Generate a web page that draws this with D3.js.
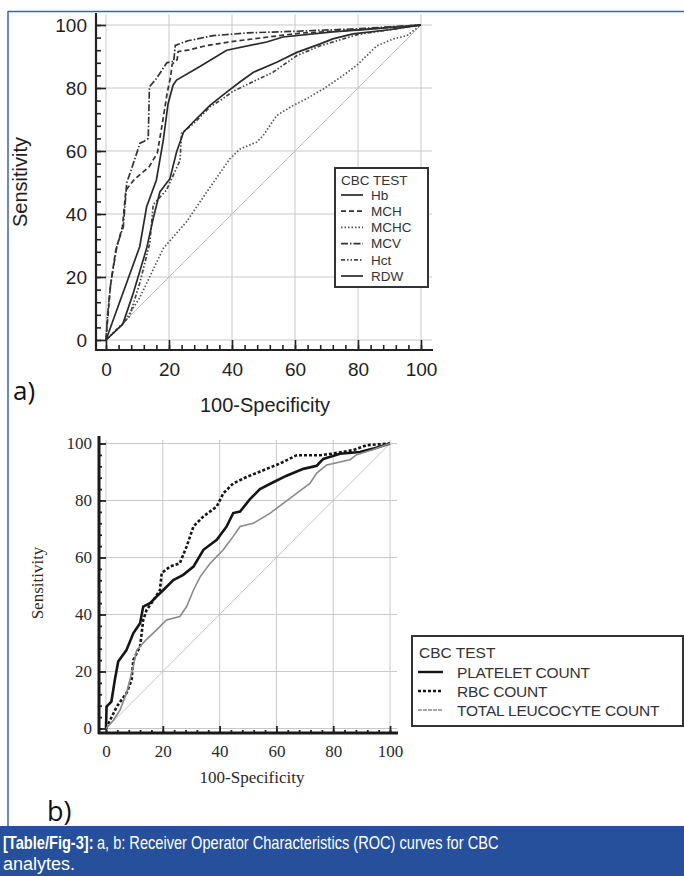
<!DOCTYPE html>
<html><head><meta charset="utf-8">
<script src="https://cdn.jsdelivr.net/npm/d3@7"></script>
<style>body{margin:0;background:#fff}svg{display:block}</style>
</head><body>
<svg id="c" width="684" height="876"></svg>
<script>
// ---------- DATA: chart a ----------
const ticksMajor = [0, 20, 40, 60, 80, 100];
const hbX   = [0, 4.4, 10.7, 12.9, 16, 18.2, 19.7, 21.3, 22.4, 29.8, 38.3, 51, 56.2, 72, 85, 100];
const hbY   = [0, 12.2, 29.6, 42.3, 50.8, 63.5, 75, 80.9, 82.5, 86.8, 92, 94.6, 96.2, 97.8, 98.8, 100];
const mchX  = [0, 1.4, 3, 5.2, 6.3, 9, 13.7, 16.3, 17.9, 19.4, 20.5, 21, 22.6, 22.9, 26, 32, 40.4, 50, 61.6, 80, 100];
const mchY  = [0, 17, 28, 35.9, 47.5, 51, 55, 59.4, 68.8, 78.3, 83.5, 87.5, 89, 91.6, 92, 93.5, 94.8, 96, 97.4, 98.5, 100];
const mchcX = [0, 5.3, 10.7, 18.2, 25.6, 32, 39.3, 42.5, 47.8, 49.9, 54.2, 59.5, 63.7, 69, 75.3, 79.6, 82.8, 86, 91.3, 95.5, 100];
const mchcY = [0, 5, 13.4, 29.1, 37.6, 47, 57.5, 60.6, 62.8, 64.9, 71.3, 74.5, 76.6, 79.7, 84, 87.2, 90.3, 93.4, 95.6, 96.6, 100];
const mcvX  = [0, 0.5, 1.5, 3.5, 5.5, 6.6, 8, 10.8, 12, 13.4, 13.8, 16, 19.3, 21.5, 22, 26, 34, 45, 60, 80, 100];
const mcvY  = [0, 8, 18, 30, 36, 50, 54, 62.5, 63, 64, 80.4, 83, 88, 88.5, 93.5, 95, 96.6, 97.5, 98, 98.8, 100];
const hctX  = [0, 7.4, 10.7, 13.9, 15, 19.2, 23.5, 24, 27.7, 33, 36.2, 40.4, 53, 60.6, 68, 80, 100];
const hctY  = [0, 7.4, 18, 30.7, 43, 47.6, 57, 65.6, 68.6, 74, 76, 79, 85, 90.3, 93.4, 97, 100];
const rdwX  = [0, 5.3, 8.5, 12.9, 15, 17.1, 20.3, 22.4, 24.6, 27.7, 33, 38.3, 42.5, 46.8, 54.2, 60.6, 68, 72, 78.4, 90, 100];
const rdwY  = [0, 5, 14.4, 29.1, 38.6, 47, 51.2, 59.7, 66, 69.2, 74.5, 78.7, 81.9, 85, 88.2, 91.3, 94, 95.6, 97.2, 98.5, 100];
const seriesNamesA = ["Hb", "MCH", "MCHC", "MCV", "Hct", "RDW"];

// ---------- DATA: chart b ----------
const pltX = [0, 0.2, 1.9, 3.1, 4.3, 7.2, 9.6, 12, 13.1, 15.5, 17.8, 20.2, 23.7, 27.2, 30.8, 34.3, 39, 42.5, 44.8, 47.2, 50.7, 54.2, 58.9, 63.6, 69.5, 74.2, 76.5, 82.4, 89.4, 94.1, 100];
const pltY = [0, 7.7, 9.4, 17, 23.5, 27.5, 33.4, 36.9, 42.8, 44, 46.3, 48.6, 52.1, 53.9, 56.8, 62.7, 66.2, 70.9, 75.6, 76.1, 80.5, 84, 86.4, 88.7, 91.1, 92.2, 94.6, 96.4, 97, 98.2, 100];
const rbcX = [0, 3.8, 7.2, 9, 9.6, 12, 13.1, 14.3, 16.7, 19, 19.6, 22.5, 26, 28.4, 30.8, 34.3, 39, 41.3, 44.8, 49.6, 55.4, 61.3, 67.2, 75.4, 80.1, 87.1, 91.8, 100];
const rbcY = [0, 7.7, 12.4, 17, 24, 28.8, 38, 41.6, 45, 48.6, 54.5, 56.8, 58, 63.9, 70.9, 74.4, 77.9, 82.5, 86, 88.3, 90.6, 93, 95.9, 95.9, 96.5, 97.7, 99.4, 100];
const tlcX = [0, 2.6, 4.9, 7.2, 8.4, 9.6, 10.8, 14.3, 17.8, 21.3, 26, 28.4, 30.8, 33.2, 36.7, 41.3, 44.8, 47.2, 51.9, 57.7, 62.4, 67.1, 71.8, 74.2, 77.7, 85.9, 88.3, 94.1, 100];
const tlcY = [0, 2.9, 6.4, 12.4, 17, 21.7, 27.5, 31.3, 34.6, 38.1, 39.3, 42.8, 48.6, 53.3, 58, 62.7, 67.4, 70.9, 72, 75.5, 79, 82.5, 86, 89.6, 92.5, 94.3, 96.1, 97.9, 100];
const seriesNamesB = ["PLATELET COUNT", "RBC COUNT", "TOTAL LEUCOCYTE COUNT"];

const svg = d3.select("#c");
const zip = (xs, ys) => xs.map((x, i) => [x, ys[i]]);
const SANS = "'Liberation Sans', Arial, sans-serif";
const SERIF = "'Liberation Serif', 'Times New Roman', serif";

// ---------- frame ----------
svg.append("line").attr("x1", 8).attr("x2", 684).attr("y1", 11.5).attr("y2", 11.5).attr("stroke", "#3b63ad").attr("stroke-width", 1.5);
svg.append("line").attr("x1", 8).attr("x2", 8).attr("y1", 11).attr("y2", 826).attr("stroke", "#3b63ad").attr("stroke-width", 1.5);

// ================= CHART A =================
const xA = d3.scaleLinear().domain([0, 100]).range([106, 421]);
const yA = d3.scaleLinear().domain([0, 100]).range([340, 25]);
const gA = svg.append("g");
const gridA = gA.append("g").attr("stroke", "#c9c9c9").attr("stroke-width", 1);
ticksMajor.forEach(t => {
  gridA.append("line").attr("x1", xA(t)).attr("x2", xA(t)).attr("y1", 14).attr("y2", 350);
  gridA.append("line").attr("y1", yA(t)).attr("y2", yA(t)).attr("x1", 97).attr("x2", 432);
});
gA.append("line").attr("x1", xA(0)).attr("y1", yA(0)).attr("x2", xA(100)).attr("y2", yA(100))
  .attr("stroke", "#bdbdbd").attr("stroke-width", 1);

const minorA = d3.range(0, 101, 4);
const axA_x = gA.append("g").attr("transform", "translate(0,350)")
  .call(d3.axisBottom(xA).tickValues(ticksMajor).tickSizeInner(-10).tickSizeOuter(0).tickPadding(13));
const axA_xm = gA.append("g").attr("transform", "translate(0,350)")
  .call(d3.axisBottom(xA).tickValues(minorA).tickSizeInner(-5).tickSizeOuter(0).tickFormat(""));
const axA_y = gA.append("g").attr("transform", "translate(96,0)")
  .call(d3.axisLeft(yA).tickValues(ticksMajor).tickSizeInner(-10).tickSizeOuter(0).tickPadding(9));
const axA_ym = gA.append("g").attr("transform", "translate(96,0)")
  .call(d3.axisLeft(yA).tickValues(minorA).tickSizeInner(-5).tickSizeOuter(0).tickFormat(""));
[axA_x, axA_xm, axA_y, axA_ym].forEach(a => {
  a.select(".domain").remove();
  a.selectAll("line").attr("stroke", "#222").attr("stroke-width", 1.6);
  a.selectAll("text").attr("font-family", SANS).attr("font-size", 19).attr("fill", "#1e1e1e");
});
gA.append("line").attr("x1", 96).attr("x2", 433).attr("y1", 350).attr("y2", 350).attr("stroke", "#222").attr("stroke-width", 2.2);
gA.append("line").attr("x1", 96).attr("x2", 96).attr("y1", 13).attr("y2", 351).attr("stroke", "#222").attr("stroke-width", 2.2);

gA.append("text").attr("x", 265).attr("y", 412).attr("text-anchor", "middle")
  .attr("font-family", SANS).attr("font-size", 20).attr("fill", "#1e1e1e").text("100-Specificity");
gA.append("text").attr("transform", "translate(27,182) rotate(-90)").attr("text-anchor", "middle")
  .attr("font-family", SANS).attr("font-size", 20).attr("fill", "#1e1e1e").text("Sensitivity");

const lineA = d3.line().x(d => xA(d[0])).y(d => yA(d[1]));
const dashesA = [null, "5,3", "1.5,2", "7,2,1.5,2", "4,2,1.5,2,1.5,2", null];
const dataA = [zip(hbX, hbY), zip(mchX, mchY), zip(mchcX, mchcY), zip(mcvX, mcvY), zip(hctX, hctY), zip(rdwX, rdwY)];
const colA = ["#2a2a2a", "#333", "#555", "#333", "#444", "#2a2a2a"];
dataA.forEach((d, i) => {
  gA.append("path").datum(d).attr("d", lineA).attr("fill", "none")
    .attr("stroke", colA[i]).attr("stroke-width", 1.7)
    .attr("stroke-dasharray", dashesA[i]);
});

const legA = gA.append("g");
legA.append("rect").attr("x", 335).attr("y", 168).attr("width", 93).attr("height", 119)
  .attr("fill", "#fff").attr("stroke", "#333").attr("stroke-width", 2);
legA.append("text").attr("x", 341).attr("y", 185).attr("font-family", SANS)
  .attr("font-size", 13.5).attr("fill", "#333").text("CBC TEST");
seriesNamesA.forEach((n, i) => {
  const cy = 195 + i * 16.2;
  legA.append("line").attr("x1", 341).attr("x2", 363).attr("y1", cy).attr("y2", cy)
    .attr("stroke", colA[i]).attr("stroke-width", 1.7).attr("stroke-dasharray", dashesA[i]);
  legA.append("text").attr("x", 371).attr("y", cy + 4.8).attr("font-family", SANS)
    .attr("font-size", 13.5).attr("fill", "#333").text(n);
});

svg.append("text").attr("x", 13).attr("y", 400).attr("font-family", "'Open Sans', sans-serif")
  .attr("font-size", 26).attr("fill", "#111").text("a)");

// ================= CHART B =================
const xB = d3.scaleLinear().domain([0, 100]).range([106, 390]);
const yB = d3.scaleLinear().domain([0, 100]).range([728.5, 443.5]);
const gB = svg.append("g");
const gridB = gB.append("g").attr("stroke", "#c9c9c9").attr("stroke-width", 1);
ticksMajor.forEach(t => {
  gridB.append("line").attr("x1", xB(t)).attr("x2", xB(t)).attr("y1", 440).attr("y2", 733);
  gridB.append("line").attr("y1", yB(t)).attr("y2", yB(t)).attr("x1", 99).attr("x2", 397);
});
gB.append("line").attr("x1", xB(0)).attr("y1", yB(0)).attr("x2", xB(100)).attr("y2", yB(100))
  .attr("stroke", "#c4c4c4").attr("stroke-width", 1);

const minorB = d3.range(0, 101, 4);
const axB_x = gB.append("g").attr("transform", "translate(0,733)")
  .call(d3.axisBottom(xB).tickValues(ticksMajor).tickSizeInner(-7).tickSizeOuter(0).tickPadding(12));
const axB_xm = gB.append("g").attr("transform", "translate(0,733)")
  .call(d3.axisBottom(xB).tickValues(minorB).tickSizeInner(-3).tickSizeOuter(0).tickFormat(""));
const axB_y = gB.append("g").attr("transform", "translate(99,0)")
  .call(d3.axisLeft(yB).tickValues(ticksMajor).tickSizeInner(-7).tickSizeOuter(0).tickPadding(7));
const axB_ym = gB.append("g").attr("transform", "translate(99,0)")
  .call(d3.axisLeft(yB).tickValues(minorB).tickSizeInner(-3).tickSizeOuter(0).tickFormat(""));
[axB_x, axB_xm, axB_y, axB_ym].forEach(a => {
  a.select(".domain").remove();
  a.selectAll("line").attr("stroke", "#222").attr("stroke-width", 1.8);
  a.selectAll("text").attr("font-family", SERIF).attr("font-size", 17).attr("fill", "#2a2a2a");
});
gB.append("line").attr("x1", 98).attr("x2", 398).attr("y1", 733).attr("y2", 733).attr("stroke", "#1a1a1a").attr("stroke-width", 3);
gB.append("line").attr("x1", 99).attr("x2", 99).attr("y1", 436).attr("y2", 734).attr("stroke", "#1a1a1a").attr("stroke-width", 3);

gB.append("text").attr("x", 252).attr("y", 783).attr("text-anchor", "middle")
  .attr("font-family", SERIF).attr("font-size", 17).attr("fill", "#2a2a2a").text("100-Specificity");
gB.append("text").attr("transform", "translate(43,583) rotate(-90)").attr("text-anchor", "middle")
  .attr("font-family", SERIF).attr("font-size", 17).attr("fill", "#2a2a2a").text("Sensitivity");

const lineB = d3.line().x(d => xB(d[0])).y(d => yB(d[1]));
const dataB = [zip(pltX, pltY), zip(rbcX, rbcY), zip(tlcX, tlcY)];
const colB = ["#151515", "#151515", "#8a8a8a"];
const widB = [2.6, 2.6, 1.6];
const dashB = [null, "3,2", null];
dataB.forEach((d, i) => {
  gB.append("path").datum(d).attr("d", lineB).attr("fill", "none")
    .attr("stroke", colB[i]).attr("stroke-width", widB[i]).attr("stroke-dasharray", dashB[i]);
});

const legB = gB.append("g");
legB.append("rect").attr("x", 412).attr("y", 636).attr("width", 271).attr("height", 90)
  .attr("fill", "#fff").attr("stroke", "#333").attr("stroke-width", 2);
legB.append("text").attr("x", 419).attr("y", 657.5).attr("font-family", SANS)
  .attr("font-size", 15.5).attr("fill", "#333").text("CBC TEST");
const legDashB = [null, "3,2", "4,1"];
seriesNamesB.forEach((n, i) => {
  const cy = 672 + i * 19;
  legB.append("line").attr("x1", 418).attr("x2", 443).attr("y1", cy).attr("y2", cy)
    .attr("stroke", colB[i]).attr("stroke-width", i === 2 ? 1.6 : 2.4).attr("stroke-dasharray", legDashB[i]);
  legB.append("text").attr("x", 457).attr("y", cy + 5.5).attr("font-family", SANS)
    .attr("font-size", 15.5).attr("letter-spacing", -0.2).attr("fill", "#333").text(n);
});

svg.append("text").attr("x", 47).attr("y", 821).attr("font-family", "'Open Sans', sans-serif")
  .attr("font-size", 27).attr("fill", "#111").text("b)");

// ---------- caption ----------
svg.append("rect").attr("x", 0).attr("y", 826).attr("width", 684).attr("height", 50).attr("fill", "#26509b");
const capG = svg.append("g");
const capB = capG.append("text").attr("x", 0).attr("y", 849).attr("font-family", SANS)
  .attr("font-size", 18).attr("font-weight", "bold").attr("fill", "#fff").text("[Table/Fig-3]:");
const wB = capB.node().getComputedTextLength();
const capR = capG.append("text").attr("x", wB + 4).attr("y", 849).attr("font-family", SANS)
  .attr("font-size", 18).attr("fill", "#fff").text("a, b: Receiver Operator Characteristics (ROC) curves for CBC");
const totalW = wB + 4 + capR.node().getComputedTextLength();
const k = 496 / totalW;
capG.attr("transform", `translate(3,0) scale(${k},1)`);
svg.append("text").attr("x", 3).attr("y", 870).attr("font-family", SANS)
  .attr("font-size", 18).attr("fill", "#fff").text("analytes.");
</script>
</body></html>
